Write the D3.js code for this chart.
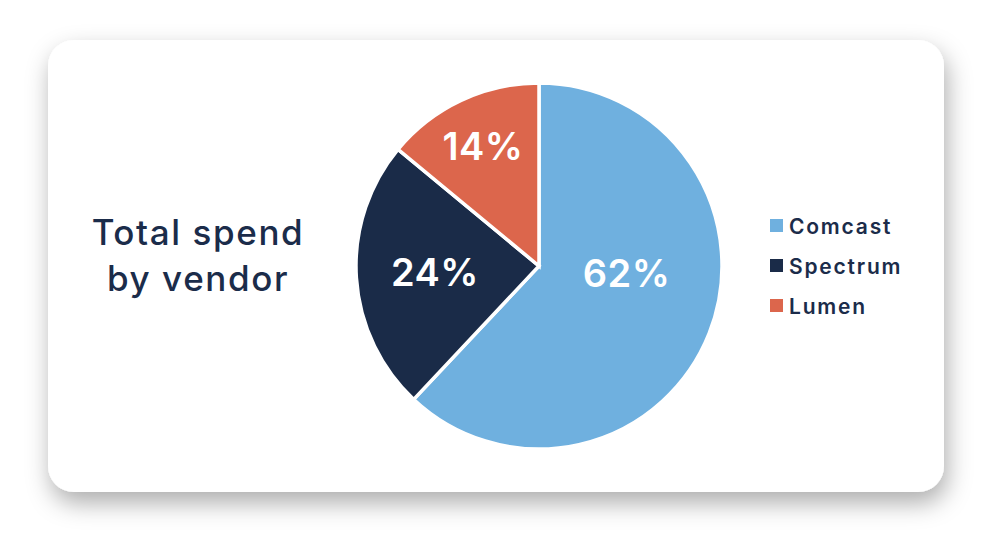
<!DOCTYPE html>
<html>
<head>
<meta charset="utf-8">
<script src="https://d3js.org/d3.v7.min.js"></script>
<style>
  html, body { margin: 0; padding: 0; background: #fff; }
  svg { display: block; font-family: Inter, "Open Sans", sans-serif; }
</style>
</head>
<body>
<svg width="991" height="557"></svg>
<script>
// chart data
var vendors = ["Comcast", "Spectrum", "Lumen"];
var shares = [62, 24, 14];
var colors = ["#6fb0df", "#1a2b48", "#dc664c"];
var titleLines = ["Total spend", "by vendor"];

var svg = d3.select("svg"),
    width = +svg.attr("width"),
    height = +svg.attr("height");

var navy = "#1b2c4a";

// card with soft shadow
var defs = svg.append("defs");
var filter = defs.append("filter").attr("id", "shadow")
    .attr("x", "-20%").attr("y", "-20%").attr("width", "140%").attr("height", "150%");
filter.append("feDropShadow")
    .attr("dx", 3).attr("dy", 11).attr("stdDeviation", 12)
    .attr("flood-color", "#000").attr("flood-opacity", 0.32);

svg.append("rect")
    .attr("x", 48).attr("y", 40)
    .attr("width", 896).attr("height", 452)
    .attr("rx", 26).attr("ry", 26)
    .attr("fill", "#fff")
    .attr("filter", "url(#shadow)");

// title
var title = svg.append("text")
    .attr("x", 198).attr("y", 245)
    .attr("text-anchor", "middle")
    .attr("fill", navy)
    .style("font-size", "35px")
    .style("font-weight", 500)
    .style("letter-spacing", "1.6px");
title.selectAll("tspan").data(titleLines).enter().append("tspan")
    .attr("x", 198)
    .attr("dy", function(d, i) { return i ? 46 : 0; })
    .text(function(d) { return d; });

// pie
var cx = 539, cy = 266, radius = 183;

var pie = d3.pie().sort(null).value(function(d) { return d.value; });
var arc = d3.arc().innerRadius(0).outerRadius(radius);

var data = vendors.map(function(v, i) { return { name: v, value: shares[i], color: colors[i] }; });
var arcs = pie(data);

var g = svg.append("g").attr("transform", "translate(" + cx + "," + cy + ")");

g.selectAll("path").data(arcs).enter().append("path")
    .attr("d", arc)
    .attr("fill", function(d) { return d.data.color; })
    .attr("stroke", "#fff")
    .attr("stroke-width", 3.5)
    .attr("stroke-linejoin", "miter");

// labels: mid-angle, but big slices that span 3 o'clock get a horizontal label
function labelPos(d) {
    var a = (d.startAngle + d.endAngle) / 2;
    var r = radius * 0.57;
    if (d.endAngle - d.startAngle > Math.PI) {
        a = Math.PI / 2 + 0.08;
        r = radius * 0.48;
    } else if (d.endAngle - d.startAngle < Math.PI / 3) {
        r = radius * 0.72;
    }
    return [Math.sin(a) * r, -Math.cos(a) * r];
}

g.selectAll("text.pct").data(arcs).enter().append("text")
    .attr("class", "pct")
    .attr("x", function(d) { return labelPos(d)[0]; })
    .attr("y", function(d) { return labelPos(d)[1]; })
    .attr("dy", "0.36em")
    .attr("text-anchor", "middle")
    .attr("fill", "#fff")
    .style("font-size", "38px")
    .style("font-weight", 600)
    .style("letter-spacing", "0.5px")
    .text(function(d) { return d.data.value + "%"; });

// legend
var legend = svg.append("g").attr("transform", "translate(770,219)");
var item = legend.selectAll("g").data(data).enter().append("g")
    .attr("transform", function(d, i) { return "translate(0," + (i * 40) + ")"; });
item.append("rect")
    .attr("width", 13).attr("height", 13)
    .attr("fill", function(d) { return d.color; });
item.append("text")
    .attr("x", 19).attr("y", 15)
    .attr("fill", navy)
    .style("font-size", "21px")
    .style("font-weight", 600)
    .style("letter-spacing", "1.8px")
    .text(function(d) { return d.name; });
</script>
</body>
</html>
